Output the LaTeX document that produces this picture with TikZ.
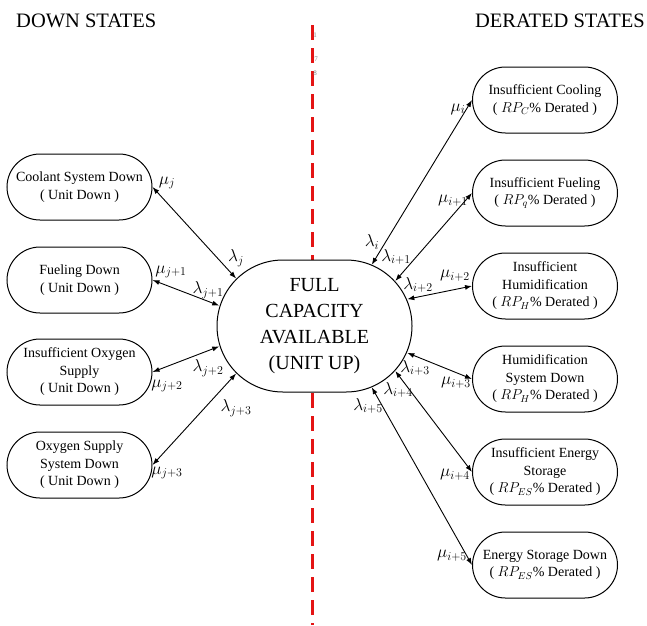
\documentclass[tikz,border=0pt]{standalone}
\usepackage{amsmath}
\usepackage{fontspec}
\setmainfont{Liberation Serif}
\usetikzlibrary{arrows.meta, calc}

\definecolor{cutred}{RGB}{228,20,20}

\begin{document}
\begin{tikzpicture}[x=1pt, y=-1pt, >={Latex[length=7pt, width=5pt]},
    state/.style={rectangle, rounded corners=33pt, draw, line width=1pt, fill=white,
        minimum width=145pt, minimum height=66pt, inner sep=2pt,
        align=center, font=\fontsize{14}{17.5}\selectfont},
    full/.style={rectangle, rounded corners=66pt, draw, line width=1pt, fill=white,
        minimum width=195pt, minimum height=132pt, inner sep=2pt,
        align=center, font=\fontsize{20}{26}\selectfont},
    rate/.style={inner sep=0pt, font=\fontsize{17}{17}\selectfont},
    head/.style={font=\fontsize{20.5}{22}\selectfont, inner sep=0pt},
    link/.style={<->, line width=0.9pt}]
    \useasboundingbox (0,0) rectangle (647,625);

    % dividing line
    \coordinate (top) at (312,25);
    \coordinate (bot) at (312,625);
    \draw[cutred, line width=3pt, dash pattern=on 15pt off 8pt] (top) -- (bot);
    \node[gray, font=\fontsize{7}{7}\selectfont, inner sep=0pt] (n1) at (315,35) {1};
    \node[gray, font=\fontsize{7}{7}\selectfont, inner sep=0pt] (n7) at (316,59) {7};
    \node[gray, font=\fontsize{7}{7}\selectfont, inner sep=0pt] (n8) at (315,73) {8};

    \node[head, anchor=base west] (down) at (16,27) {DOWN STATES};
    \node[head, anchor=base east] (derated) at (645,27) {DERATED STATES};

    \node[full] (up) at (314.5,326) {FULL\\CAPACITY\\AVAILABLE\\(UNIT UP)};
    % centres of the two end arcs of (up)
    \coordinate (upl) at ($(up.center)+(-32.5pt,0pt)$);
    \coordinate (upr) at ($(up.center)+(32.5pt,0pt)$);

    % down states
    \node[state] (cool) at (79.5,187) {Coolant System Down\\( Unit Down )};
    \node[state] (fuel) at (79.5,280) {Fueling Down\\( Unit Down )};
    \node[state] (oxy) at (79.5,372) {Insufficient Oxygen\\Supply\\( Unit Down )};
    \node[state] (oxysys) at (79.5,465) {Oxygen Supply\\System Down\\( Unit Down )};

    % derated states
    \node[state] (cooling) at (545,100) {Insufficient Cooling\\( $RP_C$\% Derated )};
    \node[state] (fueling) at (545,193) {Insufficient Fueling\\( $RP_q$\% Derated )};
    \node[state] (humid) at (545,286) {Insufficient\\Humidification\\( $RP_H$\% Derated )};
    \node[state] (humsys) at (545,379) {Humidification\\System Down\\( $RP_H$\% Derated )};
    \node[state] (energy) at (545,472) {Insufficient Energy\\Storage\\( $RP_{ES}$\% Derated )};
    \node[state] (storage) at (545,565) {Energy Storage Down\\( $RP_{ES}$\% Derated )};

    \draw[link] (cool.east) -- ($(upl)+(134:66pt)$);
    \draw[link] (fuel.east) -- ($(upl)+(162:66pt)$);
    \draw[link] (oxy.east) -- ($(upl)+(198:66pt)$);
    \draw[link] (oxysys.east) -- ($(upl)+(226:66pt)$);

    \draw[link] ($(upr)+(68:66pt)$) -- (cooling.west);
    \draw[link] ($(upr)+(43:66pt)$) -- (fueling.west);
    \draw[link] ($(upr)+(24:66pt)$) -- (humid.west);
    \draw[link] ($(upr)+(-24:66pt)$) -- (humsys.west);
    \draw[link] ($(upr)+(-43:66pt)$) -- (energy.west);
    \draw[link] ($(upr)+(-68:66pt)$) -- (storage.west);

    % rates
    \node[rate] (muj0) at (167,183) {$\mu_{j}$};
    \node[rate] (laj0) at (236,258) {$\lambda_{j}$};
    \node[rate] (muj1) at (171,272) {$\mu_{j+1}$};
    \node[rate] (laj1) at (208,290) {$\lambda_{j+1}$};
    \node[rate] (laj2) at (208,368) {$\lambda_{j+2}$};
    \node[rate] (muj2) at (167,386) {$\mu_{j+2}$};
    \node[rate] (laj3) at (236,408) {$\lambda_{j+3}$};
    \node[rate] (muj3) at (167,473) {$\mu_{j+3}$};

    \node[rate] (mui0) at (458,109) {$\mu_{i}$};
    \node[rate] (mui1) at (453,201) {$\mu_{i+1}$};
    \node[rate] (lai0) at (372,242) {$\lambda_{i}$};
    \node[rate] (lai1) at (396,257) {$\lambda_{i+1}$};
    \node[rate] (lai2) at (418,285) {$\lambda_{i+2}$};
    \node[rate] (mui2) at (455,276) {$\mu_{i+2}$};
    \node[rate] (lai3) at (415,368) {$\lambda_{i+3}$};
    \node[rate] (mui3) at (456,383) {$\mu_{i+3}$};
    \node[rate] (lai4) at (398,390) {$\lambda_{i+4}$};
    \node[rate] (lai5) at (368,406) {$\lambda_{i+5}$};
    \node[rate] (mui4) at (455,475) {$\mu_{i+4}$};
    \node[rate] (mui5) at (452,556) {$\mu_{i+5}$};
\end{tikzpicture}
\end{document}
